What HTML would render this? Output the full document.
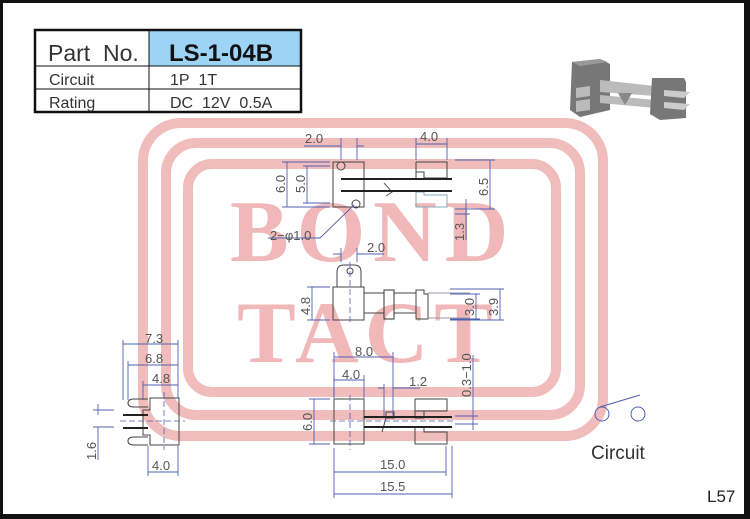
<!DOCTYPE html>
<html><head><meta charset="utf-8"><style>
html,body{margin:0;padding:0;}
body{width:750px;height:519px;overflow:hidden;background:#fff;position:relative;}
.frame{position:absolute;left:0;top:0;width:750px;height:519px;box-sizing:border-box;border-style:solid;border-color:#111;border-width:3px 6px 5px 3px;}
svg{position:absolute;left:0;top:0;}
</style></head><body>
<svg width="750" height="519" viewBox="0 0 750 519" xmlns="http://www.w3.org/2000/svg">
<!-- watermark -->
<g fill="none" stroke="#f0bcbc" stroke-width="10">
<rect x="143" y="123" width="460" height="313" rx="38"/>
<rect x="166" y="143" width="414" height="272" rx="30"/>
<rect x="188" y="164" width="368" height="228" rx="24"/>
</g>
<g font-family="Liberation Serif, serif" font-weight="bold" fill="#f0b8b8" font-size="88">
<text x="230" y="261" letter-spacing="8">BOND</text>
<text x="237" y="362" letter-spacing="6">TACT</text>
</g>

<!-- table -->
<rect x="149" y="31" width="151" height="35" fill="#9dd3f5"/>
<g stroke="#111" fill="none">
<rect x="35" y="30" width="266" height="82" stroke-width="2.5"/>
<line x1="149" y1="30" x2="149" y2="112" stroke-width="1"/>
<line x1="35" y1="66" x2="301" y2="66" stroke-width="1"/>
<line x1="35" y1="89" x2="301" y2="89" stroke-width="1"/>
</g>
<g font-family="Liberation Sans, sans-serif" fill="#333">
<text x="48" y="61" font-size="23" font-weight="300">Part&#160;&#160;No.</text>
<text x="169" y="61" font-size="24" font-weight="bold" fill="#111">LS-1-04B</text>
<text x="49" y="85" font-size="16">Circuit</text>
<text x="170" y="85" font-size="16">1P&#160;&#160;1T</text>
<text x="49" y="108" font-size="16">Rating</text>
<text x="170" y="108" font-size="16">DC&#160;&#160;12V&#160;&#160;0.5A</text>
</g>

<!-- 3D image -->
<g>
<polygon points="572,62 600,59 610,64 610,110 580,117 570,110" fill="#777"/>
<polygon points="572,62 600,59 608,62 580,66" fill="#999"/>
<polygon points="600,80 655,86 655,96 600,92" fill="#bbb"/>
<polygon points="600,95 655,100 655,108 600,103" fill="#bbb"/>
<polygon points="618,93 632,93 625,105" fill="#888"/>
<polygon points="652,78 684,78 686,82 686,118 660,120 650,114" fill="#777"/>
<polygon points="664,90 690,92 684,98 664,96" fill="#ccc"/>
<polygon points="664,102 690,104 684,110 664,108" fill="#ccc"/>
<polygon points="576,88 590,86 590,96 576,98" fill="#bbb"/>
<polygon points="576,101 590,99 590,110 576,112" fill="#bbb"/>
</g>

<!-- drawings -->
<g fill="none" stroke="#444" stroke-width="1">
<!-- top view -->
<rect x="333" y="162" width="31" height="45"/>
<circle cx="341" cy="166" r="4"/>
<circle cx="356" cy="204" r="4"/>
<path d="M416 162 H447 V178 H424 V178"/>
<path d="M416 162 V178" />
<rect x="416" y="172" width="8" height="7"/>
<path d="M416 192 V207 H447 V195 H424 V192 Z" stroke="#8ab"/>
<path d="M384 183 L392 192 L386 196" stroke="#555"/>
<!-- side view -->
<path d="M337 287 V272 Q337 265 344 265 H354 Q361 265 361 272 V287"/>
<circle cx="350" cy="271" r="3"/>
<rect x="333" y="287" width="31" height="33"/>
<path d="M364 293 H384 M364 313 H384 M394 293 H416 M394 313 H416"/>
<rect x="384" y="290" width="10" height="29" stroke="#333"/>
<path d="M416 290 H424 V294 H428 V319 H416 Z"/>
<path d="M428 293 H470 M428 318 H470" stroke="#99a"/>
<!-- bottom view -->
<rect x="334" y="399" width="30" height="45"/>
<path d="M415 399 H447 V411 H424 V417 M415 399 V417"/>
<path d="M415 427 V444 H447 V432 H424 V427"/>
<rect x="415" y="411" width="9" height="7"/>
<rect x="386" y="412" width="8" height="6"/>
<path d="M386 418 L382 432"/>
<!-- left side view -->
<path d="M150 398 H179 V445 H150 V435 H143 V410 H150 Z"/>
<path d="M148 399 H134 Q128 399 128 403 Q128 407 134 407 H148"/>
<path d="M148 437 H134 Q128 437 128 441 Q128 445 134 445 H148"/>
</g>
<g stroke="#222" stroke-width="2">
<line x1="341" y1="179" x2="452" y2="179"/>
<line x1="341" y1="191" x2="452" y2="191"/>
<line x1="364" y1="417" x2="452" y2="417"/>
<line x1="364" y1="427" x2="452" y2="427"/>
<line x1="123" y1="415" x2="148" y2="415"/>
<line x1="123" y1="428" x2="148" y2="428"/>
</g>
<!-- center dashed -->
<g stroke="#5060b0" stroke-width="0.8" stroke-dasharray="6,3" fill="none">
<line x1="350" y1="395" x2="350" y2="450"/>
<line x1="330" y1="421" x2="455" y2="421"/>
<line x1="350" y1="262" x2="350" y2="324"/>
<line x1="164" y1="392" x2="164" y2="450"/>
<line x1="120" y1="421" x2="185" y2="421"/>
</g>
<!-- dimension lines -->
<g stroke="#5060b0" stroke-width="0.9" fill="none">
<path d="M304 146 H341 M341 138 V160 M357 138 V160 M357 146 H364"/>
<path d="M416 144 H447 M416 138 V160 M447 138 V160"/>
<path d="M282 162 H330 M282 207 H330 M287 162 V207"/>
<path d="M303 166 H330 M303 203 H330 M307 166 V203"/>
<path d="M455 160 H495 M455 209 H495 M490 160 V209"/>
<path d="M466 199 V240 M455 214 H470"/>
<path d="M268 238 H320 L354 205"/>
<path d="M341 248 V262 M357 248 V262 M333 254 H341 M357 254 H384"/>
<path d="M307 287 H330 M307 320 H330 M312 287 V320"/>
<path d="M450 294 H480 M450 319 H480 M476 294 V319"/>
<path d="M450 289 H504 M450 320 H504 M500 289 V320"/>
<path d="M334 352 V398 M393 352 V416 M334 357 H393"/>
<path d="M334 375 V398 M364 375 V398 M334 380 H364"/>
<path d="M384 384 V416 M378 388 H384 M393 388 H420"/>
<path d="M473 355 V430 M455 416 H478 M455 424 H478"/>
<path d="M309 399 H330 M309 444 H330 M314 399 V444"/>
<path d="M334 448 V498 M446 446 V476 M452 446 V498 M334 472 H446 M334 494 H452"/>
<path d="M123 340 V400 M178 340 V398 M123 344 H178"/>
<path d="M128 361 V400 M128 365 H178"/>
<path d="M143 381 V400 M143 385 H178"/>
<path d="M148 446 V476 M178 446 V476 M148 472 H178"/>
<path d="M93 410 H114 M93 427 H114 M98 404 V415 M98 427 V460"/>
</g>
<!-- dimension text -->
<g font-family="Liberation Sans, sans-serif" font-size="13" fill="#555">
<text x="305" y="143">2.0</text>
<text x="420" y="141">4.0</text>
<text x="270" y="240">2−φ1.0</text>
<text x="367" y="252">2.0</text>
<text x="355" y="356">8.0</text>
<text x="342" y="379">4.0</text>
<text x="409" y="386">1.2</text>
<text x="380" y="469">15.0</text>
<text x="380" y="491">15.5</text>
<text x="145" y="343">7.3</text>
<text x="145" y="363">6.8</text>
<text x="152" y="383">4.8</text>
<text x="152" y="470">4.0</text>
<text transform="translate(285,193) rotate(-90)">6.0</text>
<text transform="translate(305,193) rotate(-90)">5.0</text>
<text transform="translate(488,196) rotate(-90)">6.5</text>
<text transform="translate(464,241) rotate(-90)">1.3</text>
<text transform="translate(310,315) rotate(-90)">4.8</text>
<text transform="translate(474,316) rotate(-90)">3.0</text>
<text transform="translate(498,316) rotate(-90)">3.9</text>
<text transform="translate(471,397) rotate(-90)">0.3−1.0</text>
<text transform="translate(312,431) rotate(-90)">6.0</text>
<text transform="translate(96,460) rotate(-90)">1.6</text>
</g>

<!-- circuit -->
<g stroke="#5060b0" stroke-width="1" fill="none">
<circle cx="602" cy="414" r="7"/>
<circle cx="638" cy="414" r="7"/>
<line x1="600" y1="407" x2="640" y2="395"/>
</g>
<text x="591" y="459" font-family="Liberation Sans, sans-serif" font-size="19" fill="#333">Circuit</text>
<text x="707" y="502" font-family="Liberation Sans, sans-serif" font-size="17" fill="#222">L57</text>
</svg>
<div class="frame"></div>
</body></html>
